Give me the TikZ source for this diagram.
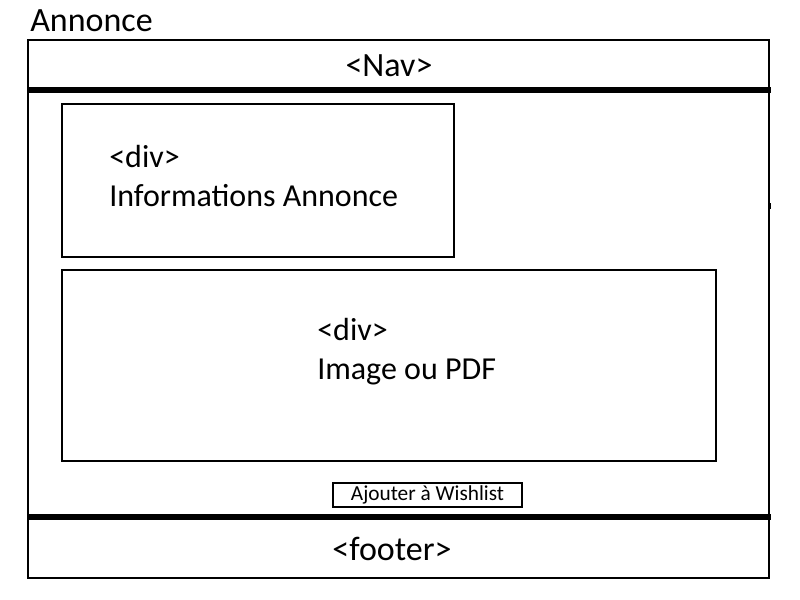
\documentclass[tikz,border=0pt]{standalone}
\usepackage{fontspec}
\setmainfont{Carlito}
\usetikzlibrary{positioning}

\begin{document}
\begin{tikzpicture}[x=0.75pt,y=-0.75pt,node distance=29.5pt,on grid,
			frame/.style={draw,line width=1.5pt},
			bar/.style={line width=3.8pt},
			divbox/.style={draw,line width=1.5pt,inner sep=0pt},
			big/.style={font=\fontsize{25.5}{30}\selectfont,inner sep=0pt},
			label/.style={font=\fontsize{24}{29}\selectfont,inner sep=0pt,anchor=base west},
			btn/.style={draw,line width=1.2pt,inner sep=0pt,minimum width=141.75pt,minimum height=18pt,font=\fontsize{16}{19}\selectfont}]
			\useasboundingbox (0,0) rectangle (800,600);
			% page frame
			\draw[frame] (28,40) rectangle (769,578);
			\coordinate (navl) at (28,90);
			\coordinate (navr) at (771,90);
			\coordinate (footl) at (28,517);
			\coordinate (footr) at (771,517);
			\draw[bar] (navl) -- (navr);
			\draw[bar] (footl) -- (footr);
			\draw[line width=2pt] (770,203) -- (770,209);
			\node[big,anchor=base west] (title) at (30,31) {Annonce};
			\node[big] (nav) at (389,66) {<Nav>};
			\node[big] (footer) at (392,549) {<footer>};
			% blocs
			\node[divbox,minimum width=294pt,minimum height=114.75pt] (info) at (258,180.5) {};
			\node[divbox,minimum width=490.5pt,minimum height=143.25pt] (image) at (389,365.5) {};
			\node[label] (infotag) at (109,167) {<div>};
			\node[label] (infotxt) [below=of infotag.base west,anchor=base west] {Informations Annonce};
			\node[label] (imagetag) at (317,340) {<div>};
			\node[label] (imagetxt) [below=of imagetag.base west,anchor=base west] {Image ou PDF};
			\node[btn] (wish) at (427.5,495) {Ajouter à Wishlist};
		\end{tikzpicture}
\end{document}
